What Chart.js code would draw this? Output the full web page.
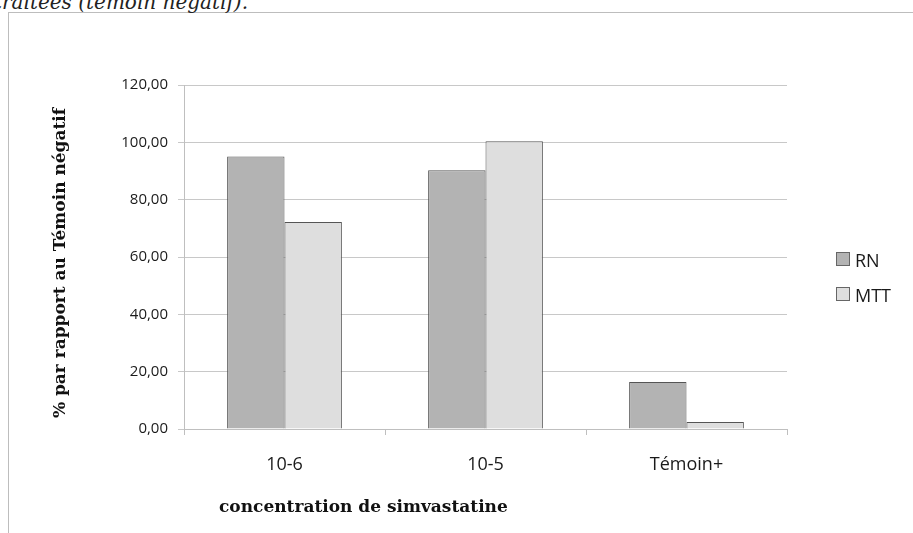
<!DOCTYPE html>
<html>
<head>
<meta charset="utf-8">
<script src="https://cdn.jsdelivr.net/npm/chart.js@4"></script>
<style>
  html, body { margin: 0; padding: 0; background: #fff; }
  #wrap { position: relative; width: 913px; height: 533px; overflow: hidden; }
  #frame { position: absolute; left: 8px; top: 12px; width: 1000px; height: 600px;
           border-left: 1px solid #bdbdbd; border-top: 1px solid #bdbdbd; }
  #caption { position: absolute; top: -10px; left: -352px; width: 600px; text-align: right;
             font: italic 20px "DejaVu Serif"; color: #222; white-space: nowrap; }
  canvas { position: absolute; left: 0; top: 0; }
</style>
</head>
<body>
<div id="wrap">
  <div id="frame"></div>
  <div id="caption">traitées (témoin négatif).</div>
  <canvas id="chart" width="913" height="533"></canvas>
</div>
<script>
// Concentrations tested and controls
const categories = ['10-6', '10-5', 'Témoin+'];
// Results per assay, % of the negative control
const rnValues = [95.1, 90.3, 16.4];
const mttValues = [72.2, 100.4, 2.4];
const seriesNames = ['RN', 'MTT'];
const seriesFill = ['#b3b3b3', '#dedede'];
// Value axis ticks
const yTicks = [0, 20, 40, 60, 80, 100, 120];
const yTitle = '% par rapport au Témoin négatif';
const xTitle = 'concentration de simvastatine';

const fmt = v => v.toFixed(2).replace('.', ',');

// Axis titles and the side legend, drawn onto the chart canvas
const decorations = {
  id: 'decorations',
  afterDraw(chart) {
    const ctx = chart.ctx;
    const a = chart.chartArea;
    ctx.save();
    ctx.fillStyle = '#111';
    ctx.font = 'bold 17px "DejaVu Serif"';
    ctx.textBaseline = 'alphabetic';

    // vertical title
    ctx.save();
    ctx.translate(65, (a.top + a.bottom) / 2 + 6);
    ctx.rotate(-Math.PI / 2);
    ctx.textAlign = 'center';
    ctx.fillText(yTitle, 0, 0);
    ctx.restore();

    // horizontal title, left aligned under the first group
    ctx.textAlign = 'left';
    ctx.fillText(xTitle, 219, 512);

    // legend
    ctx.font = '18px "Open Sans"';
    chart.data.datasets.forEach((ds, i) => {
      const y = 252 + i * 35;
      ctx.fillStyle = ds.backgroundColor;
      ctx.fillRect(836, y, 13, 13);
      ctx.strokeStyle = '#666';
      ctx.lineWidth = 1;
      ctx.strokeRect(836.5, y + 0.5, 13, 13);
      ctx.fillStyle = '#1a1a1a';
      ctx.fillText(ds.label, 855, y + 15);
    });
    ctx.restore();
  }
};

new Chart(document.getElementById('chart'), {
  type: 'bar',
  data: {
    labels: categories,
    datasets: [
      { label: seriesNames[0], data: rnValues, backgroundColor: seriesFill[0],
        borderColor: '#555', borderWidth: 1 },
      { label: seriesNames[1], data: mttValues, backgroundColor: seriesFill[1],
        borderColor: '#555', borderWidth: 1 }
    ]
  },
  options: {
    responsive: false,
    animation: false,
    devicePixelRatio: 1,
    layout: { padding: { top: 85, right: 126, left: 0, bottom: 0 } },
    datasets: { bar: { categoryPercentage: 0.571, barPercentage: 1.0 } },
    plugins: { legend: { display: false }, tooltip: { enabled: false } },
    scales: {
      x: {
        grid: { drawOnChartArea: false, drawTicks: true, tickLength: 6, color: '#bfbfbf', offset: true },
        border: { display: true, color: '#bfbfbf' },
        ticks: { font: { family: 'Open Sans', size: 18 }, color: '#1a1a1a', padding: 19 },
        afterFit(s) { s.height = 104; }
      },
      y: {
        min: 0,
        max: 120,
        afterBuildTicks(s) { s.ticks = yTicks.map(v => ({ value: v })); },
        ticks: { font: { family: 'Open Sans', size: 15 }, color: '#1a1a1a', padding: 10,
                 callback: v => fmt(v) },
        grid: { color: '#c8c8c8', tickLength: 6 },
        border: { display: true, color: '#bfbfbf' },
        afterFit(s) { s.width = 184; }
      }
    }
  },
  plugins: [decorations]
});
</script>
</body>
</html>
